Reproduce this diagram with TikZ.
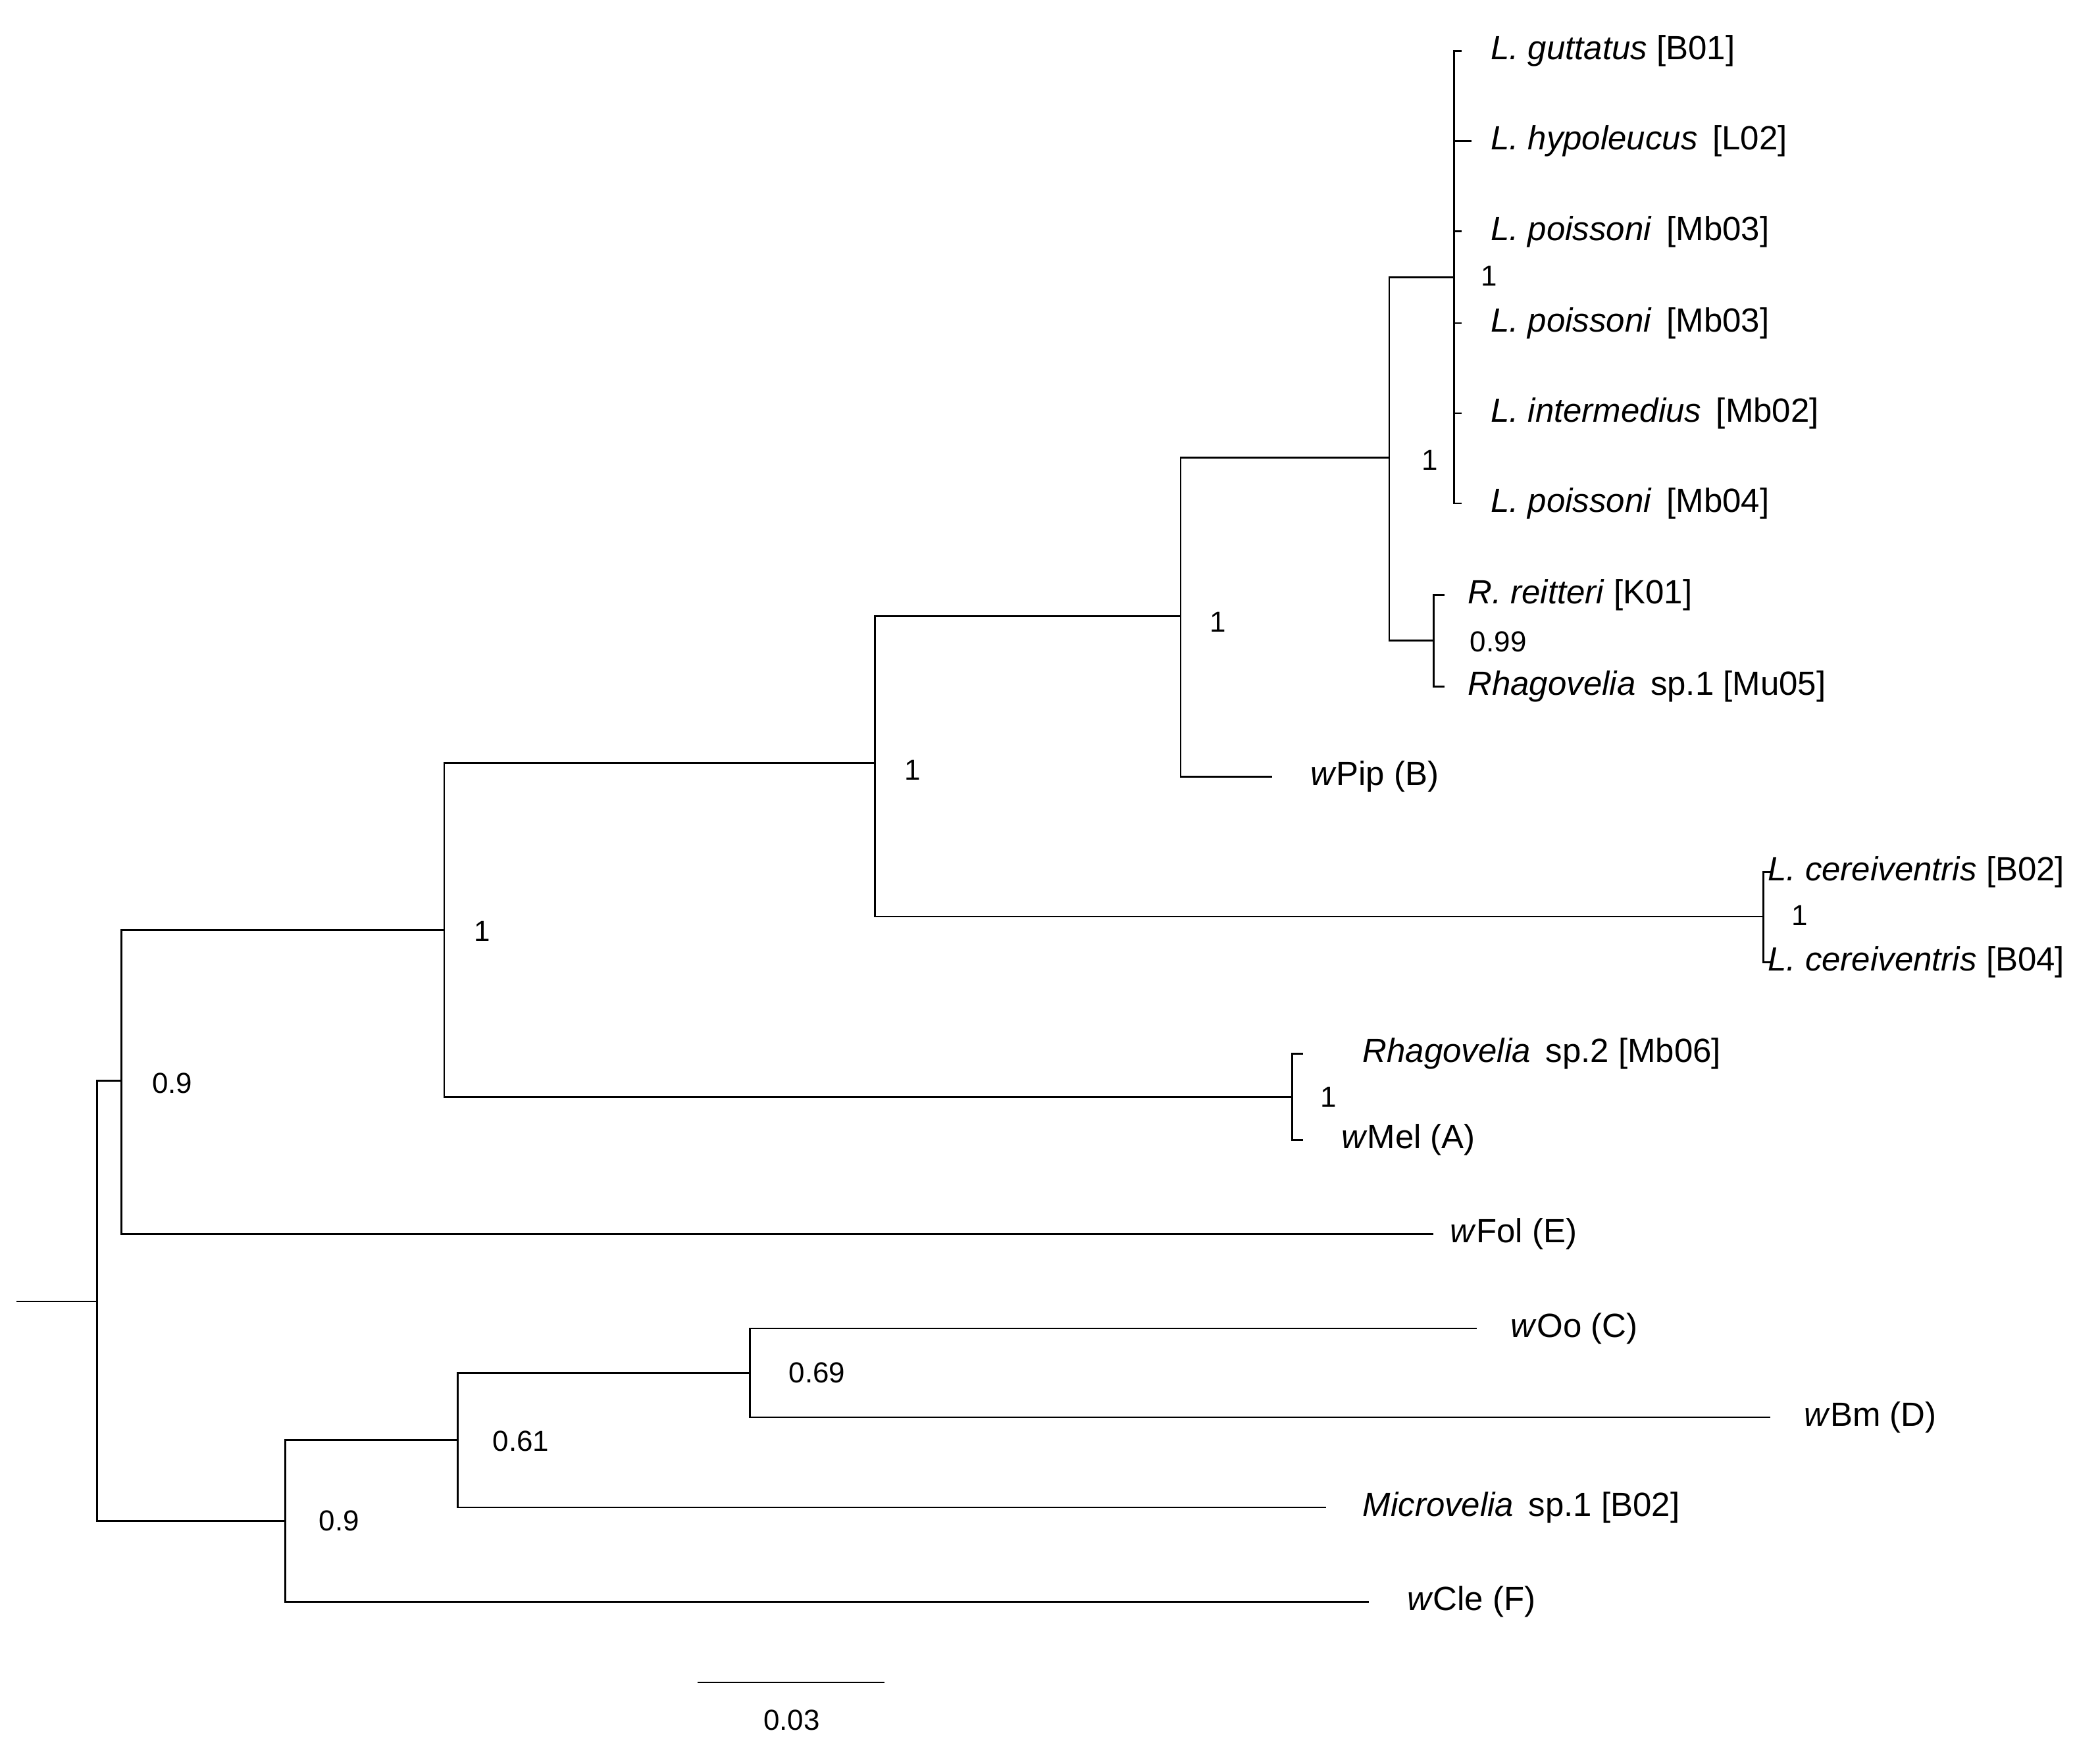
\documentclass[tikz,border=0pt]{standalone}
\usepackage{fontspec}
\setmainfont{Liberation Sans}
\tikzset{
  branch/.style={line width=0.8pt},
  taxon/.style={anchor=west,inner sep=0pt,font=\fontsize{14.5}{17}\selectfont},
  support/.style={inner sep=0pt,font=\fontsize{12.5}{15}\selectfont},
}
\begin{document}
\begin{tikzpicture}[x=0.02045cm,y=-0.02045cm]
\useasboundingbox (0,0) rectangle (1560,1292);
% internal nodes
\coordinate (root) at (72,967);
\coordinate (nA) at (90,803);
\coordinate (nB) at (330,691);
\coordinate (nC) at (650,567);
\coordinate (nD) at (877,458);
\coordinate (nE) at (1032,340);
\coordinate (nF) at (1080,206);
\coordinate (nG) at (1065,476);
\coordinate (nL) at (1310,681);
\coordinate (nH) at (960,815);
\coordinate (nI) at (212,1130);
\coordinate (nJ) at (340,1070);
\coordinate (nK) at (557,1020);
\coordinate (base) at (12,967);
% leaves
\foreach \y/\name/\tip/\txt in {%
    38/g/1086/{\textit{L. guttatus} [B01]},%
    105/h/1093/{\textit{L. hypoleucus}\, [L02]},%
    172/p1/1086/{\textit{L. poissoni}\, [Mb03]},%
    240/p2/1086/{\textit{L. poissoni}\, [Mb03]},%
    307/i/1086/{\textit{L. intermedius}\, [Mb02]},%
    374/p3/1086/{\textit{L. poissoni}\, [Mb04]}%
  } {%
    \coordinate (\name) at (\tip,\y);
    \node[taxon] (t\name) at (1107,\y) {\txt};
    \draw[branch] (nF) |- (\name);
  }
\coordinate (rr) at (1073,442);
\coordinate (rs) at (1073,510);
\coordinate (cb2) at (1316,648);
\coordinate (cb4) at (1316,715);
\coordinate (rs2) at (968,783);
\coordinate (mel) at (968,847);
\coordinate (pip) at (945,577);
\coordinate (fol) at (1065,917);
\coordinate (oo) at (1097,987);
\coordinate (bm) at (1315,1053);
\coordinate (mic) at (985,1120);
\coordinate (cle) at (1017,1190);
\node[taxon] (trr) at (1090,442) {\textit{R. reitteri} [K01]};
\node[taxon] (trs) at (1090,510) {\textit{Rhagovelia}\, sp.1 [Mu05]};
\node[taxon] (tcb2) at (1313,648) {\textit{L. cereiventris} [B02]};
\node[taxon] (tcb4) at (1313,715) {\textit{L. cereiventris} [B04]};
\node[taxon] (trs2) at (1012,783) {\textit{Rhagovelia}\, sp.2 [Mb06]};
\node[taxon] (tmel) at (996,847) {\textit{w}Mel (A)};
\node[taxon] (tpip) at (973,577) {\textit{w}Pip (B)};
\node[taxon] (tfol) at (1077,917) {\textit{w}Fol (E)};
\node[taxon] (too) at (1122,987) {\textit{w}Oo (C)};
\node[taxon] (tbm) at (1340,1053) {\textit{w}Bm (D)};
\node[taxon] (tmic) at (1012,1120) {\textit{Microvelia}\, sp.1 [B02]};
\node[taxon] (tcle) at (1045,1190) {\textit{w}Cle (F)};
% branches
\draw[branch] (base) -- (root);
\draw[branch] (root) |- (nA);
\draw[branch] (root) |- (nI);
\draw[branch] (nA) |- (nB);
\draw[branch] (nA) |- (fol);
\draw[branch] (nB) |- (nC);
\draw[branch] (nB) |- (nH);
\draw[branch] (nC) |- (nD);
\draw[branch] (nC) |- (nL);
\draw[branch] (nD) |- (nE);
\draw[branch] (nD) |- (pip);
\draw[branch] (nE) |- (nF);
\draw[branch] (nE) |- (nG);
\draw[branch] (nG) |- (rr);
\draw[branch] (nG) |- (rs);
\draw[branch] (nL) |- (cb2);
\draw[branch] (nL) |- (cb4);
\draw[branch] (nH) |- (rs2);
\draw[branch] (nH) |- (mel);
\draw[branch] (nI) |- (nJ);
\draw[branch] (nI) |- (cle);
\draw[branch] (nJ) |- (nK);
\draw[branch] (nJ) |- (mic);
\draw[branch] (nK) |- (oo);
\draw[branch] (nK) |- (bm);
% support values
\node[support] (sA) at (128,805) {0.9};
\node[support] (sB) at (358,692) {1};
\node[support] (sC) at (678,572) {1};
\node[support] (sD) at (905,462) {1};
\node[support] (sE) at (1062,342) {1};
\node[support] (sF) at (1106,205) {1};
\node[support] (sG) at (1113,477) {0.99};
\node[support] (sL) at (1337,680) {1};
\node[support] (sH) at (987,815) {1};
\node[support] (sI) at (252,1130) {0.9};
\node[support] (sJ) at (387,1071) {0.61};
\node[support] (sK) at (607,1020) {0.69};
% scale bar
\coordinate (s0) at (518,1250);
\coordinate (s1) at (657,1250);
\draw[branch] (s0) -- (s1);
\node[support] (scale) at (588,1278) {0.03};
\end{tikzpicture}
\end{document}
